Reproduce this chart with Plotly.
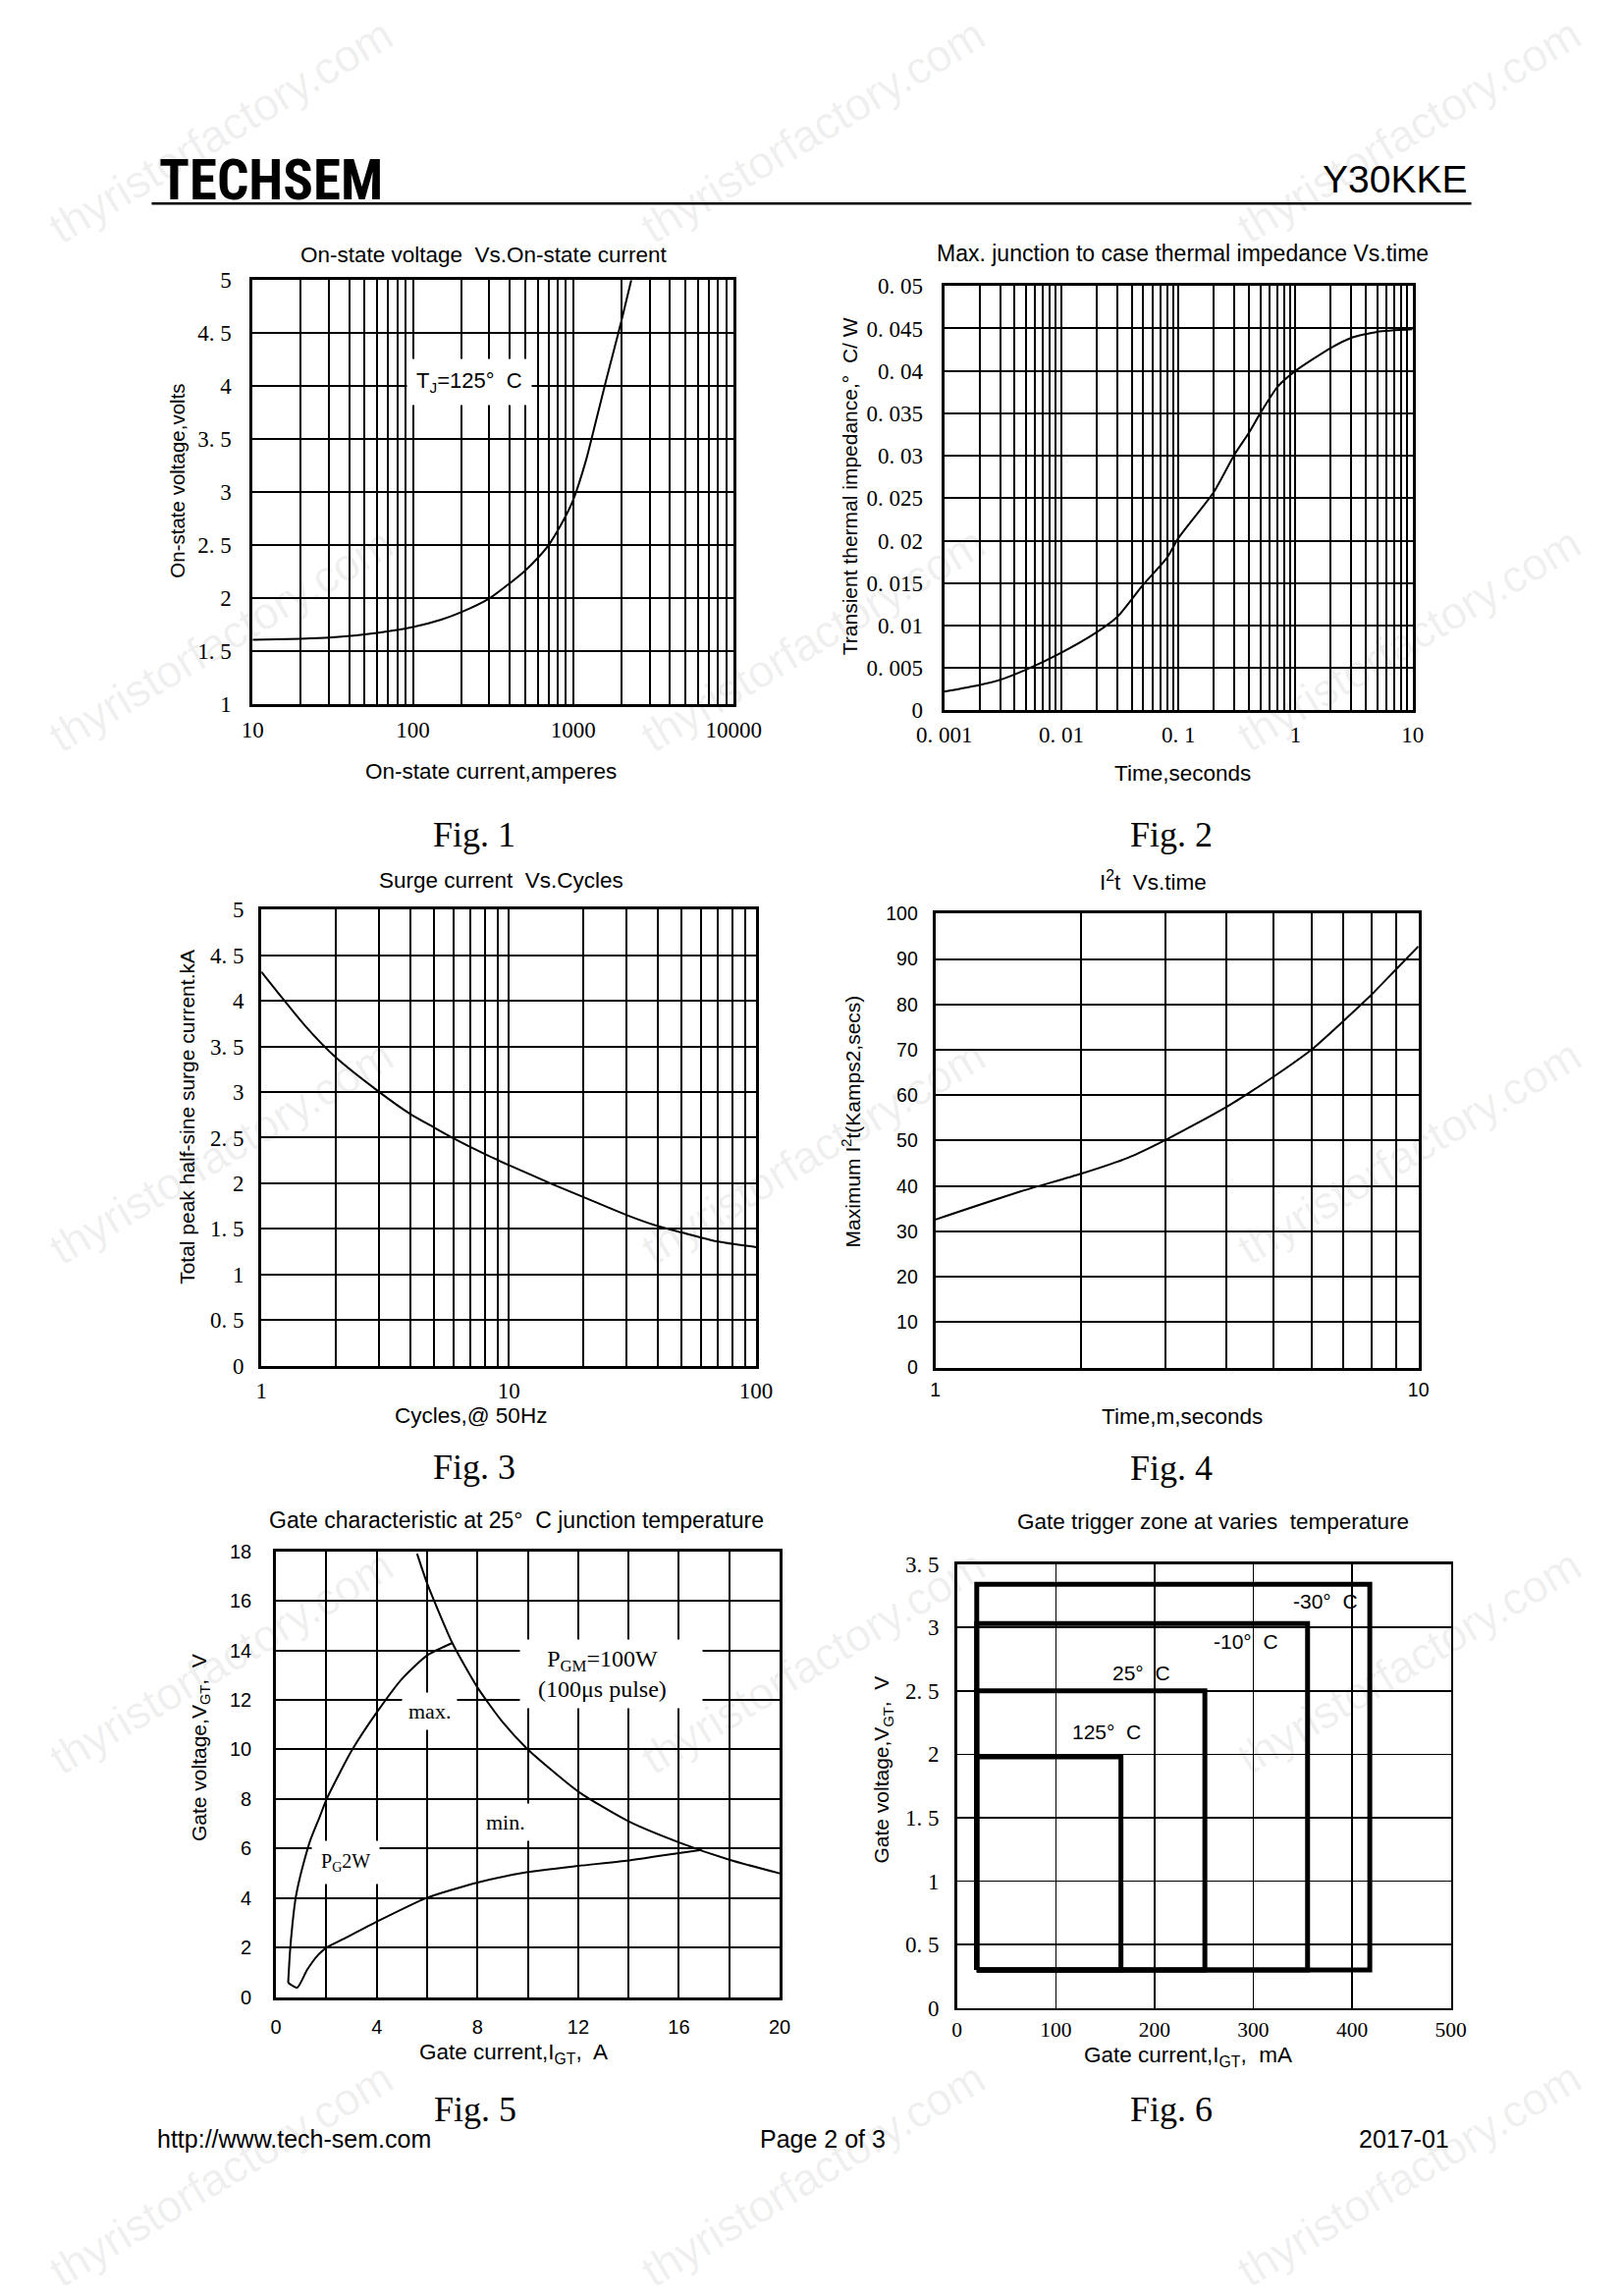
import math
import plotly.graph_objects as go

W, H = 1653, 2338

# ---------------- data ----------------
# Fig.1 on-state voltage vs on-state current (Tj=125C)
f1_current = [10, 20, 30, 50, 100, 150, 200, 300, 400, 500, 600, 700, 800, 900,
              1000, 1200, 1400, 1600, 1800, 2000, 2300]
f1_voltage = [1.61, 1.62, 1.63, 1.66, 1.73, 1.80, 1.87, 2.00, 2.14, 2.26, 2.38,
              2.50, 2.64, 2.78, 2.93, 3.30, 3.70, 4.05, 4.35, 4.62, 5.00]

# Fig.2 transient thermal impedance vs time
f2_time = [0.001, 0.002, 0.003, 0.005, 0.01, 0.02, 0.03, 0.05, 0.08, 0.1, 0.2,
           0.3, 0.4, 0.5, 0.7, 1, 2, 3, 5, 10]
f2_zth = [0.0022, 0.0030, 0.0036, 0.0048, 0.0068, 0.0092, 0.0110, 0.0148, 0.0180,
          0.0203, 0.0257, 0.0301, 0.0327, 0.0350, 0.0381, 0.0400, 0.0427, 0.0439,
          0.0446, 0.0449]

# Fig.3 surge current vs cycles
f3_cycles = [1, 1.5, 2, 3, 4, 5, 6, 8, 10, 15, 20, 30, 40, 50, 70, 100]
f3_surge = [4.32, 3.73, 3.38, 3.00, 2.76, 2.61, 2.49, 2.32, 2.20, 1.99, 1.85,
            1.65, 1.53, 1.46, 1.36, 1.30]

# Fig.4 I2t vs time
f4_time = [1, 1.5, 2, 2.5, 3, 4, 5, 6, 7, 8, 9, 10]
f4_i2t = [32.6, 38.8, 42.7, 46.2, 50.2, 57.4, 64.0, 70.0, 76.4, 82.2, 87.8, 92.8]

# Fig.5 gate characteristic
f5_pgm_i = [5.6, 6, 7, 8, 9, 10, 12, 14, 16, 18, 20]
f5_pgm_v = [17.9, 16.7, 14.3, 12.5, 11.1, 10.0, 8.3, 7.1, 6.25, 5.55, 5.0]
f5_max_i = [0.48, 0.55, 0.65, 0.77, 0.9, 1.1, 1.35, 1.74, 2.0, 2.5, 3.0, 4.0, 5.0, 6.0, 7.0]
f5_max_v = [0.58, 1.79, 2.95, 3.96, 4.63, 5.44, 6.31, 7.3, 7.98, 9.0, 9.95, 11.5, 12.85, 13.8, 14.3]
f5_min_i = [0.48, 0.84, 1.23, 1.68, 2.0, 2.65, 4.0, 6.0, 8.0, 10.0, 12.0, 14.0, 16.0, 16.9]
f5_min_v = [0.58, 0.39, 1.10, 1.72, 2.0, 2.34, 3.05, 4.02, 4.63, 5.05, 5.30, 5.52, 5.82, 5.95]

# Fig.6 gate trigger zones
f6_labels = ["125°  C", "25°  C", "-10°  C", "-30°  C"]
f6_left = 20
f6_bottom = 0.3
f6_right = [166, 251, 355, 418]
f6_top = [1.98, 2.50, 3.03, 3.34]
f6_label_x = [151, 187, 293, 373]
f6_label_y = [2.18, 2.64, 2.89, 3.21]

# tick labels
f1_xlab = {10: "10", 100: "100", 1000: "1000", 10000: "10000"}
f1_yvals = [1, 1.5, 2, 2.5, 3, 3.5, 4, 4.5, 5]
f1_ytext = ["1", "1. 5", "2", "2. 5", "3", "3. 5", "4", "4. 5", "5"]
f2_xlab = {0.001: "0. 001", 0.01: "0. 01", 0.1: "0. 1", 1: "1", 10: "10"}
f2_yvals = [0, 0.005, 0.01, 0.015, 0.02, 0.025, 0.03, 0.035, 0.04, 0.045, 0.05]
f2_ytext = ["0", "0. 005", "0. 01", "0. 015", "0. 02", "0. 025", "0. 03", "0. 035",
            "0. 04", "0. 045", "0. 05"]
f3_xlab = {1: "1", 10: "10", 100: "100"}
f3_yvals = [0, 0.5, 1, 1.5, 2, 2.5, 3, 3.5, 4, 4.5, 5]
f3_ytext = ["0", "0. 5", "1", "1. 5", "2", "2. 5", "3", "3. 5", "4", "4. 5", "5"]
f4_xlab = {1: "1", 10: "10"}
f4_yvals = [0, 10, 20, 30, 40, 50, 60, 70, 80, 90, 100]
f5_xvals = [0, 2, 4, 6, 8, 10, 12, 14, 16, 18, 20]
f5_xtext = ["0", "", "4", "", "8", "", "12", "", "16", "", "20"]
f5_yvals = [0, 2, 4, 6, 8, 10, 12, 14, 16, 18]
f6_xvals = [0, 100, 200, 300, 400, 500]
f6_yvals = [0, 0.5, 1, 1.5, 2, 2.5, 3, 3.5]
f6_ytext = ["0", "0. 5", "1", "1. 5", "2", "2. 5", "3", "3. 5"]

# ---------------- helpers ----------------
SANS = "Liberation Sans, Arial, sans-serif"
SERIF = "Liberation Serif, Times New Roman, serif"

# page-position correction (the rendered page is shown slightly reduced about its centre)
KX, KY = 1 / 0.967, 1 / 0.989
CX, CY = W / 2, H / 2


def X(x):
    return CX + (x - CX) * KX


def Y(y):
    return CY + (y - CY) * KY


def px(x):
    return X(x) / W


def py(y):
    return 1 - Y(y) / H


def log_ticks(lo_exp, hi_exp, labels):
    vals, text = [], []
    for e in range(lo_exp, hi_exp):
        for k in range(1, 10):
            v = round(k * 10 ** e, 10)
            vals.append(v)
            text.append(labels.get(v, ""))
    v = round(10 ** hi_exp, 10)
    vals.append(v)
    text.append(labels.get(v, ""))
    return vals, text


# plot rectangles in reference pixels (left, right, top, bottom)
rects = {
    1: (256, 747, 286, 718),
    2: (962, 1440, 292, 724),
    3: (265, 770, 927, 1391),
    4: (953, 1446, 931, 1393),
    5: (280, 794, 1580, 2034),
    6: (975, 1479, 1593, 2045),
}

fig = go.Figure()


def ax_name(i, a):
    return a if i == 1 else f"{a}{i}"


def add_line(i, x, y, width=2):
    fig.add_trace(go.Scatter(x=x, y=y, mode="lines",
                             line=dict(color="black", width=width, shape="spline", smoothing=0.6),
                             xaxis=ax_name(i, "x"), yaxis=ax_name(i, "y"),
                             hoverinfo="skip", showlegend=False))


add_line(1, f1_current, f1_voltage)
add_line(2, f2_time, f2_zth)
add_line(3, f3_cycles, f3_surge)
add_line(4, f4_time, f4_i2t)
add_line(5, f5_pgm_i, f5_pgm_v)
add_line(5, f5_max_i, f5_max_v)
add_line(5, f5_min_i, f5_min_v)

for r, t in zip(f6_right, f6_top):
    fig.add_trace(go.Scatter(x=[f6_left, f6_left, r, r, f6_left],
                             y=[f6_bottom, t, t, f6_bottom, f6_bottom],
                             mode="lines", line=dict(color="black", width=5),
                             xaxis="x6", yaxis="y6", hoverinfo="skip", showlegend=False))


def axis(i, which, **kw):
    l, r, t, b = rects[i]
    base = dict(showgrid=True, gridcolor="black", gridwidth=2,
                showline=True, linecolor="black", linewidth=3, mirror=True,
                zeroline=False, ticks="", fixedrange=True,
                tickfont=dict(family=SERIF, size=23, color="black"))
    if which == "x":
        base.update(domain=[px(l), px(r)], anchor=ax_name(i, "y"))
    else:
        base.update(domain=[py(b), py(t)], anchor=ax_name(i, "x"))
    base.update(kw)
    key = ("xaxis" if which == "x" else "yaxis") + ("" if i == 1 else str(i))
    fig.update_layout({key: base})


v, t = log_ticks(1, 4, f1_xlab)
axis(1, "x", type="log", range=[1, 4], tickmode="array", tickvals=v, ticktext=t,
     ticklabelstandoff=3)
axis(1, "y", range=[1, 5], tickmode="array", tickvals=f1_yvals, ticktext=f1_ytext,
     ticklabelstandoff=14)

v, t = log_ticks(-3, 1, f2_xlab)
axis(2, "x", type="log", range=[-3, 1], tickmode="array", tickvals=v, ticktext=t,
     ticklabelstandoff=2)
axis(2, "y", range=[0, 0.05], tickmode="array", tickvals=f2_yvals, ticktext=f2_ytext,
     ticklabelstandoff=14)

v, t = log_ticks(0, 2, f3_xlab)
axis(3, "x", type="log", range=[0, 2], tickmode="array", tickvals=v, ticktext=t,
     ticklabelstandoff=3)
axis(3, "y", range=[0, 5], tickmode="array", tickvals=f3_yvals, ticktext=f3_ytext,
     ticklabelstandoff=10)

v, t = log_ticks(0, 1, f4_xlab)
sans_tick = dict(family=SANS, size=19.5, color="black")
axis(4, "x", type="log", range=[0, 1], tickmode="array", tickvals=v, ticktext=t,
     tickfont=sans_tick, ticklabelstandoff=3)
axis(4, "y", range=[0, 100], tickmode="array", tickvals=f4_yvals,
     ticktext=[str(x) for x in f4_yvals], tickfont=sans_tick, ticklabelstandoff=11)

sans_tick5 = dict(family=SANS, size=20, color="black")
axis(5, "x", range=[0, 20], tickmode="array", tickvals=f5_xvals, ticktext=f5_xtext,
     tickfont=sans_tick5, ticklabelstandoff=10)
axis(5, "y", range=[0, 18], tickmode="array", tickvals=f5_yvals,
     ticktext=[str(x) for x in f5_yvals], tickfont=sans_tick5, ticklabelstandoff=18)

axis(6, "x", range=[0, 500], tickmode="array", tickvals=f6_xvals,
     ticktext=[str(x) for x in f6_xvals], gridwidth=1.5, linewidth=2.5, ticklabelstandoff=1,
     tickfont=dict(family=SERIF, size=21.5, color="black"))
axis(6, "y", range=[0, 3.5], tickmode="array", tickvals=f6_yvals, ticktext=f6_ytext,
     gridwidth=1.5, linewidth=2.5, ticklabelstandoff=11)

ann = []


def text(x, y, s, size=20, family=SANS, angle=0, xanchor="center", **kw):
    d = dict(x=px(x), y=py(y), xref="paper", yref="paper", text=s, showarrow=False,
             xanchor=xanchor, yanchor="middle", textangle=angle,
             font=dict(family=family, size=size, color="black"))
    d.update(kw)
    ann.append(d)


# faint watermarks
for wy in [134, 652, 1173, 1692, 2214]:
    for wx in [224, 828, 1436]:
        ann.append(dict(x=px(wx), y=py(wy), xref="paper", yref="paper",
                        text="thyristorfactory.com", showarrow=False, textangle=-31,
                        xanchor="center", yanchor="middle",
                        font=dict(family=SANS, size=46, color="rgba(0,0,0,0.07)")))

# header / footer
text(159, 184, "<b>TECHSEM</b>", size=57,
     family="Liberation Sans Narrow, Roboto Condensed, DejaVu Sans Condensed, Liberation Sans",
     xanchor="left")
text(1497, 183, "Y30KKE", size=39, xanchor="right")
text(157, 2178, "http://www.tech-sem.com", size=25, xanchor="left")
text(838, 2178, "Page 2 of 3", size=25)
text(1479, 2178, "2017-01", size=25, xanchor="right")

# titles
text(492, 260, "On-state voltage  Vs.On-state current", size=22.5)
text(1205, 259, "Max. junction to case thermal impedance Vs.time", size=23)
text(510, 897, "Surge current  Vs.Cycles", size=22.5)
text(1175, 898, "I<sup>2</sup>t  Vs.time", size=22.5)
text(525, 1548, "Gate characteristic at 25°  C junction temperature", size=23)
text(1236, 1550, "Gate trigger zone at varies  temperature", size=22.5)

# axis titles
text(499, 786, "On-state current,amperes", size=22.5)
text(179, 490, "On-state voltage,volts", size=20.5, angle=-90)
text(1205, 788, "Time,seconds", size=22.5)
text(865, 496, "Transient thermal impedance,°  C/ W", size=21, angle=-90)
text(479, 1442, "Cycles,@ 50Hz", size=22.5)
text(189, 1138, "Total peak half-sine surge current.kA", size=21, angle=-90)
text(1205, 1443, "Time,m,seconds", size=22.5)
text(868, 1142, "Maximum I<sup>2</sup>t(Kamps2,secs)", size=21, angle=-90)
text(522, 2091, "Gate current,I<sub>GT</sub>,  A", size=22.5)
text(202, 1780, "Gate voltage,V<sub>GT</sub>,  V", size=21, angle=-90)
text(1211, 2094, "Gate current,I<sub>GT</sub>,  mA", size=22.5)
text(899, 1802, "Gate voltage,V<sub>GT</sub>,  V", size=21, angle=-90)

# figure captions
for cx, cy, s in [(482, 851, "Fig. 1"), (1194, 851, "Fig. 2"), (482, 1494, "Fig. 3"),
                  (1194, 1495, "Fig. 4"), (483, 2148, "Fig. 5"), (1194, 2148, "Fig. 6")]:
    text(cx, cy, s, size=36, family=SERIF)


# in-plot labels (data coordinates)
def dtext(i, x, y, s, size=20, family=SANS, bg=None, pad=1):
    d = dict(x=x, y=y, xref=ax_name(i, "x"), yref=ax_name(i, "y"), text=s,
             showarrow=False, xanchor="center", yanchor="middle",
             font=dict(family=family, size=size, color="black"), borderpad=pad)
    if bg:
        d["bgcolor"] = bg
    ann.append(d)


dtext(1, math.log10(225), 4.04, "T<sub>J</sub>=125°  C", size=22, bg="white", pad=9)
dtext(5, 13.3, 13.05,
      "&nbsp;&nbsp;P<sub>GM</sub>=100W&nbsp;&nbsp;&nbsp;&nbsp;&nbsp;<br>&nbsp;&nbsp;(100μs pulse)&nbsp;&nbsp;&nbsp;&nbsp;&nbsp;",
      size=24, family=SERIF, bg="white", pad=6)
dtext(5, 6.1, 11.55, "max.", size=22, family=SERIF, bg="white", pad=6)
dtext(5, 9.1, 7.05, "min.", size=22, family=SERIF, bg="white", pad=6)
dtext(5, 2.75, 5.45, "P<sub>G</sub>2W", size=20, family=SERIF, bg="white", pad=9)
for lx, ly, s in zip(f6_label_x, f6_label_y, f6_labels):
    dtext(6, lx, ly, s, size=21)

fig.update_layout(
    width=W, height=H, autosize=False,
    margin=dict(l=0, r=0, t=0, b=0, pad=0),
    paper_bgcolor="white", plot_bgcolor="white",
    showlegend=False, annotations=ann,
    shapes=[dict(type="line", xref="paper", yref="paper",
                 x0=px(153), x1=px(1500), y0=py(208), y1=py(208),
                 line=dict(color="black", width=2.5))],
)

fig.write_html("out.html", config={"displayModeBar": False, "staticPlot": True},
               post_script="document.documentElement.style.margin='0';document.body.style.margin='0';document.body.style.overflow='hidden';")
